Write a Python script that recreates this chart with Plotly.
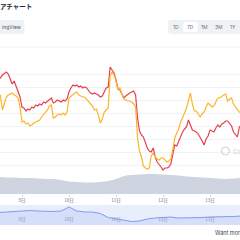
import plotly.graph_objects as go
import pandas as pd

# ---------------- data ----------------
start = "2024-03-08 12:00"
times_hourly = pd.date_range(start, periods=125, freq="h")
times_4h = pd.date_range(start, periods=32, freq="4h")

red_values = [96, 97, 100, 102, 103, 101, 96, 91, 94, 89, 85, 78, 68, 67, 64, 66, 65, 68, 67, 70,
              69, 71, 70, 73, 72, 74, 76, 77, 72, 73, 75, 74, 73, 75, 74, 76, 83, 87, 90, 89,
              90, 88, 89, 87, 88, 87, 84, 82, 81, 82, 81, 80, 78, 79, 83, 87, 88, 108, 105, 102,
              95, 86, 85, 80, 77, 79, 81, 82, 83, 84, 80, 57, 44, 40, 38, 32, 27, 24, 23, 27,
              18, 13, 11, 8, 5, 7, 7, 8, 11, 20, 30, 29, 34, 37, 43, 46, 48, 55, 50, 45,
              44, 43, 41, 38, 34, 30, 36, 39, 45, 44, 43, 47, 50, 48, 51, 52, 54, 54, 52, 49,
              43, 41, 38, 48, 50]

yellow_values = [83, 79, 65, 72, 78, 80, 81, 82, 80, 79, 77, 68, 53, 54, 51, 52, 49, 50, 52, 53,
                 54, 55, 58, 60, 63, 65, 69, 70, 57, 58, 60, 61, 60, 62, 60, 63, 77, 79, 80, 82,
                 83, 80, 79, 78, 78, 76, 74, 71, 69, 65, 66, 60, 52, 56, 63, 65, 67, 99, 103, 100,
                 94, 85, 87, 81, 76, 75, 74, 74, 73, 71, 68, 37, 24, 18, 9, 7, 6, 7, 19, 22,
                 18, 16, 15, 17, 17, 15, 13, 14, 16, 25, 37, 42, 46, 53, 57, 62, 67, 76, 82, 71,
                 64, 64, 61, 58, 61, 63, 68, 72, 70, 68, 69, 74, 77, 77, 79, 80, 81, 74, 76, 77,
                 71, 68, 65, 63, 62]

volume_values = [17, 16.5, 16.5, 16, 16, 15.5, 15, 15, 14, 12.5, 12, 11.5, 11.5, 12, 13, 15,
                 18, 19, 19.5, 20, 20, 19.5, 19, 18.5, 17.5, 17, 16.5, 16, 15.5, 15, 15.5, 16]

navigator_values = [12.5, 13, 13.5, 14, 14.5, 14, 13.5, 13.5, 14, 18, 14, 13, 13, 11.5, 7.5, 6,
                    4.5, 3.5, 4, 6, 7, 7.5, 8, 7, 7, 7, 7.5, 8, 8, 8, 8.5, 9]

tick_dates = ["2024-03-09", "2024-03-10", "2024-03-11", "2024-03-12", "2024-03-13"]
tick_labels = ["9日", "10日", "11日", "12日", "13日"]
range_buttons = ["1D", "7D", "1M", "3M", "1Y"]

# ---------------- helpers ----------------
W = H = 240.0
def px(x):
    return x / W
def py(y):
    return 1 - y / H

x_range = ["2024-03-08 12:46", "2024-03-13 15:19"]
FONT = "Noto Sans CJK JP, Noto Sans, sans-serif"

fig = go.Figure()

# volume area
fig.add_trace(go.Scatter(x=times_4h, y=volume_values, xaxis="x", yaxis="y2",
                         mode="lines", line=dict(color="#cfd5e0", width=0, shape="spline"),
                         fill="tozeroy", fillcolor="#cfd5e0", hoverinfo="skip"))
# price lines
fig.add_trace(go.Scatter(x=times_hourly, y=red_values, xaxis="x", yaxis="y",
                         mode="lines", line=dict(color="#e5404f", width=1.2)))
fig.add_trace(go.Scatter(x=times_hourly, y=yellow_values, xaxis="x", yaxis="y",
                         mode="lines", line=dict(color="#fbb52a", width=1.2)))
# navigator
fig.add_trace(go.Scatter(x=times_4h, y=navigator_values, xaxis="x2", yaxis="y3",
                         mode="lines", line=dict(color="#7d9bf2", width=1),
                         fill="tozeroy", fillcolor="rgba(160,180,245,0.25)"))

shapes = []
annotations = []

# separator line
shapes.append(dict(type="line", xref="paper", yref="paper", x0=0, x1=1, y0=py(47), y1=py(47),
                   line=dict(color="#eef0f3", width=1)))

def rpath(x0, y0, x1, y1, r):
    def P(x, y):
        return f"{px(x)},{py(y)}"
    return (f"M {P(x0 + r, y0)} L {P(x1 - r, y0)} Q {P(x1, y0)} {P(x1, y0 + r)} "
            f"L {P(x1, y1 - r)} Q {P(x1, y1)} {P(x1 - r, y1)} L {P(x0 + r, y1)} "
            f"Q {P(x0, y1)} {P(x0, y1 - r)} L {P(x0, y0 + r)} Q {P(x0, y0)} {P(x0 + r, y0)} Z")

shapes.append(dict(type="path", xref="paper", yref="paper", path=rpath(-6, 20, 24.5, 34, 3),
                   fillcolor="#eff2f5", line=dict(width=0)))
shapes.append(dict(type="path", xref="paper", yref="paper", path=rpath(168, 20, 246, 34, 3),
                   fillcolor="#eff2f5", line=dict(width=0)))
shapes.append(dict(type="path", xref="paper", yref="paper", path=rpath(183, 22, 197.5, 32, 2.5),
                   fillcolor="#ffffff", line=dict(width=0)))

# navigator background
shapes.append(dict(type="rect", xref="paper", yref="paper", x0=0, x1=1, y0=py(225), y1=py(205),
                   fillcolor="#e9eefc", line=dict(width=0), layer="below"))

# watermark logo
shapes.append(dict(type="circle", xref="paper", yref="paper", x0=px(221.5), x1=px(229.5),
                   y0=py(155), y1=py(147), line=dict(color="#c8cdd6", width=1)))

annotations.append(dict(text="<b>アチャート</b>", x=px(-2.5), y=py(5.5), xref="paper", yref="paper",
                        xanchor="left", yanchor="middle", showarrow=False,
                        font=dict(size=6.5, color="#1f2937", family=FONT)))
annotations.append(dict(text="ingView", x=px(-0.5), y=py(27), xref="paper", yref="paper",
                        xanchor="left", yanchor="middle", showarrow=False,
                        font=dict(size=5, color="#4b5563", family="Inter, sans-serif")))
for lab, cx in zip(range_buttons, [176, 190.2, 204, 219, 233]):
    annotations.append(dict(text=lab, x=px(cx), y=py(27), xref="paper", yref="paper",
                            xanchor="center", yanchor="middle", showarrow=False,
                            font=dict(size=5, color="#6b7280", family="Inter, sans-serif")))
annotations.append(dict(text="Co", x=px(230.5), y=py(151), xref="paper", yref="paper",
                        xanchor="left", yanchor="middle", showarrow=False,
                        font=dict(size=6, color="#c8cdd6", family="Inter, sans-serif")))
annotations.append(dict(text="Want mor", x=px(213), y=py(233), xref="paper", yref="paper",
                        xanchor="left", yanchor="middle", showarrow=False,
                        font=dict(size=5.5, color="#374151", family="Inter, sans-serif")))

fig.update_layout(
    width=240, height=240, margin=dict(l=0, r=0, t=0, b=0),
    paper_bgcolor="white", plot_bgcolor="rgba(0,0,0,0)", showlegend=False,
    shapes=shapes, annotations=annotations,
    xaxis=dict(domain=[0, 1], range=x_range, anchor="y2", type="date",
               tickvals=tick_dates, ticktext=tick_labels, showgrid=False, zeroline=False,
               ticks="outside", ticklen=2, tickcolor="#ccd1da", showline=False,
               tickfont=dict(size=4.5, color="#6b7280", family=FONT)),
    xaxis2=dict(domain=[0, 1], range=x_range, anchor="y3", type="date",
                tickvals=tick_dates, ticktext=tick_labels, showgrid=False, zeroline=False,
                ticklabelposition="inside", ticks="", showline=False,
                tickfont=dict(size=4.5, color="#8a93a3", family=FONT)),
    yaxis=dict(domain=[py(175), py(60)], range=[0, 115], tick0=10, dtick=13,
               showticklabels=False, showgrid=True, gridcolor="#f1f2f4", gridwidth=1,
               zeroline=False),
    yaxis2=dict(domain=[py(194), py(170)], range=[0, 24], showticklabels=False,
                showgrid=False, zeroline=False),
    yaxis3=dict(domain=[py(225), py(205)], range=[0, 20], showticklabels=False,
                showgrid=False, zeroline=False),
)

fig.write_html("out.html")
